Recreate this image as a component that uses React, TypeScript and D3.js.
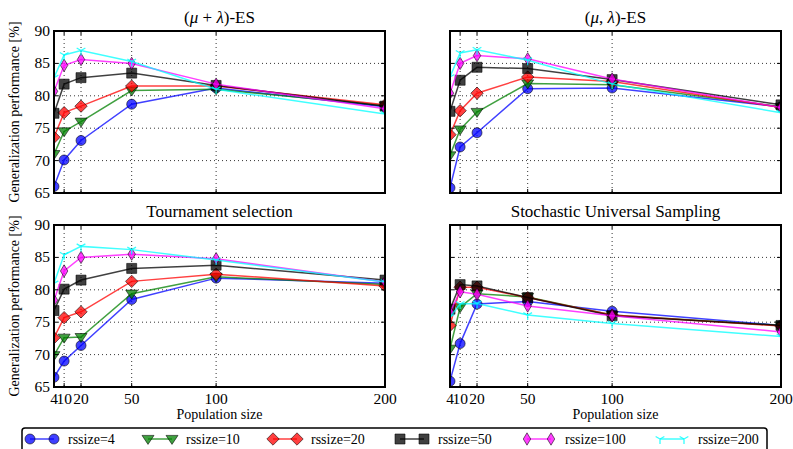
import { useEffect, useRef } from 'react';
import * as d3 from 'd3';

const popSizes = [4, 10, 20, 50, 100, 200];
const yTicks = [65, 70, 75, 80, 85, 90];
const rssizes = ['4', '10', '20', '50', '100', '200'];
const colors = ['#0000ff', '#008000', '#ff0000', '#000000', '#ff00ff', '#00ffff'];
const markers = ['o', 'v', 'D', 's', 'd', '1'];
// title pieces: [text, italic]
const titles: [string, boolean][][] = [
  [['(', false], ['μ', true], [' + ', false], ['λ', true], [')-ES', false]],
  [['(', false], ['μ', true], [', ', false], ['λ', true], [')-ES', false]],
  [['Tournament selection', false]],
  [['Stochastic Universal Sampling', false]],
];

// one row per rssize, one value per population size
const plusES = [
  [66.0, 70.1, 73.1, 78.7, 81.2, 78.3],
  [71.0, 74.5, 76.0, 80.8, 81.0, 78.5],
  [73.6, 77.4, 78.4, 81.5, 81.5, 78.6],
  [77.3, 81.8, 82.8, 83.5, 81.6, 78.4],
  [80.7, 84.7, 85.6, 85.0, 81.8, 78.0],
  [82.8, 86.3, 87.0, 85.3, 81.0, 77.2],
];
const commaES = [
  [65.8, 72.1, 74.3, 81.1, 81.2, 78.3],
  [70.8, 74.8, 77.5, 81.9, 81.7, 78.3],
  [74.0, 77.7, 80.4, 82.9, 82.2, 78.2],
  [77.6, 82.4, 84.4, 84.2, 82.5, 78.6],
  [80.4, 85.0, 86.2, 85.7, 82.6, 78.2],
  [82.9, 86.6, 87.1, 85.5, 81.8, 77.4],
];
const tournament = [
  [66.5, 69.0, 71.4, 78.5, 81.8, 81.0],
  [69.9, 72.6, 72.7, 79.4, 82.0, 80.8],
  [72.6, 75.7, 76.6, 81.3, 82.4, 80.6],
  [76.8, 80.1, 81.5, 83.3, 83.8, 81.5],
  [78.4, 82.9, 85.0, 85.5, 84.8, 81.2],
  [81.0, 85.4, 86.7, 86.2, 84.6, 81.2],
];
const sus = [
  [65.9, 71.7, 77.8, 78.2, 76.7, 74.5],
  [70.9, 77.3, 79.4, 78.9, 76.1, 74.5],
  [74.5, 80.4, 80.4, 78.8, 76.1, 74.4],
  [77.0, 80.8, 80.6, 78.8, 76.0, 74.5],
  [76.6, 79.7, 79.3, 77.5, 76.0, 73.5],
  [75.8, 77.8, 77.9, 76.1, 74.8, 72.8],
];
const panelData = [plusES, commaES, tournament, sus];

const FONT = "'Liberation Serif', 'DejaVu Serif', 'Liberation Sans', Arial, sans-serif";

function markerPath(m: string, s: number) {
  const p = d3.path();
  if (m === 'o') {
    p.arc(0, 0, s / 2, 0, Math.PI * 2);
  } else if (m === 'v') {
    const r = s * 0.6;
    p.moveTo(-r, -r * 0.6);
    p.lineTo(r, -r * 0.6);
    p.lineTo(0, r * 0.9);
    p.closePath();
  } else if (m === 'D') {
    const r = s * 0.62;
    p.moveTo(0, -r);
    p.lineTo(r, 0);
    p.lineTo(0, r);
    p.lineTo(-r, 0);
    p.closePath();
  } else if (m === 's') {
    const r = s / 2;
    p.rect(-r, -r, 2 * r, 2 * r);
  } else if (m === 'd') {
    const r = s * 0.62;
    p.moveTo(0, -r);
    p.lineTo(r * 0.6, 0);
    p.lineTo(0, r);
    p.lineTo(-r * 0.6, 0);
    p.closePath();
  } else {
    const r = s * 0.5;
    p.moveTo(0, 0);
    p.lineTo(0, r);
    p.moveTo(0, 0);
    p.lineTo(-r * 0.87, -r * 0.5);
    p.moveTo(0, 0);
    p.lineTo(r * 0.87, -r * 0.5);
  }
  return p.toString();
}

export default function App() {
  const svgRef = useRef<SVGSVGElement>(null);

  useEffect(() => {
    if (!svgRef.current) return;
    const svg = d3.select(svgRef.current);
    svg.selectAll('*').remove();

    const cols = [54, 450];
    const rows = [31, 225];
    const pw = 331;
    const ph = 162;

    panelData.forEach((data, pi) => {
      const left = cols[pi % 2];
      const top = rows[Math.floor(pi / 2)];
      const x = d3.scaleLinear().domain([4, 200]).range([left, left + pw]);
      const y = d3.scaleLinear().domain([65, 90]).range([top + ph, top]);
      const g = svg.append('g');

      g.append('clipPath')
        .attr('id', `clip${pi}`)
        .append('rect')
        .attr('x', left)
        .attr('y', top)
        .attr('width', pw)
        .attr('height', ph);

      // grid
      const grid = g.append('g').attr('stroke', '#000').attr('stroke-width', 0.8).attr('stroke-dasharray', '1,3');
      popSizes.forEach((v) => {
        grid.append('line').attr('x1', x(v)).attr('x2', x(v)).attr('y1', top).attr('y2', top + ph);
      });
      yTicks.forEach((v) => {
        grid.append('line').attr('x1', left).attr('x2', left + pw).attr('y1', y(v)).attr('y2', y(v));
      });

      // series
      const plot = g.append('g').attr('clip-path', `url(#clip${pi})`);
      const line = d3
        .line<number>()
        .x((_, i) => x(popSizes[i]))
        .y((d) => y(d));
      data.forEach((vals, si) => {
        plot
          .append('path')
          .attr('d', line(vals))
          .attr('fill', 'none')
          .attr('stroke', colors[si])
          .attr('stroke-opacity', 0.75)
          .attr('stroke-width', 1.5);
        vals.forEach((v, i) => {
          const isTri = markers[si] === '1';
          plot
            .append('path')
            .attr('transform', `translate(${x(popSizes[i])},${y(v)})`)
            .attr('d', markerPath(markers[si], 10))
            .attr('fill', isTri ? 'none' : colors[si])
            .attr('fill-opacity', 0.75)
            .attr('stroke', isTri ? colors[si] : '#000')
            .attr('stroke-opacity', isTri ? 0.8 : 0.7)
            .attr('stroke-width', isTri ? 1.3 : 0.8);
        });
      });

      // ticks (inward, all sides)
      const ticks = g.append('g').attr('stroke', '#000').attr('stroke-width', 1);
      popSizes.forEach((v) => {
        ticks.append('line').attr('x1', x(v)).attr('x2', x(v)).attr('y1', top + ph).attr('y2', top + ph - 4);
        ticks.append('line').attr('x1', x(v)).attr('x2', x(v)).attr('y1', top).attr('y2', top + 4);
      });
      yTicks.forEach((v) => {
        ticks.append('line').attr('x1', left).attr('x2', left + 4).attr('y1', y(v)).attr('y2', y(v));
        ticks.append('line').attr('x1', left + pw).attr('x2', left + pw - 4).attr('y1', y(v)).attr('y2', y(v));
      });

      // frame
      g.append('rect')
        .attr('x', left)
        .attr('y', top)
        .attr('width', pw)
        .attr('height', ph)
        .attr('fill', 'none')
        .attr('stroke', '#000')
        .attr('stroke-width', 2);

      // title
      const t = g
        .append('text')
        .attr('x', left + pw / 2)
        .attr('y', top - 8)
        .attr('text-anchor', 'middle')
        .attr('font-family', FONT)
        .attr('font-size', 17);
      titles[pi].forEach(([s, it]) => {
        t.append('tspan')
          .attr('font-style', it ? 'italic' : 'normal')
          .style('white-space', 'pre')
          .text(s);
      });

      if (pi % 2 === 0) {
        yTicks.forEach((v) => {
          g.append('text')
            .attr('x', left - 4)
            .attr('y', y(v) + 5)
            .attr('text-anchor', 'end')
            .attr('font-family', FONT)
            .attr('font-size', 15.5)
            .text(v);
        });
        g.append('text')
          .attr('transform', `translate(${left - 35},${top + ph / 2}) rotate(-90)`)
          .attr('text-anchor', 'middle')
          .attr('font-family', FONT)
          .attr('font-size', 14)
          .text('Generalization performance [%]');
      }

      if (pi >= 2) {
        popSizes.forEach((v) => {
          g.append('text')
            .attr('x', x(v))
            .attr('y', top + ph + 17)
            .attr('text-anchor', 'middle')
            .attr('font-family', FONT)
            .attr('font-size', 15.5)
            .text(v);
        });
        g.append('text')
          .attr('x', left + pw / 2)
          .attr('y', top + ph + 32)
          .attr('text-anchor', 'middle')
          .attr('font-family', FONT)
          .attr('font-size', 14)
          .text('Population size');
      }
    });

    // legend
    const lg = svg.append('g');
    lg.append('rect')
      .attr('x', 22)
      .attr('y', 428)
      .attr('width', 745)
      .attr('height', 26)
      .attr('rx', 3)
      .attr('fill', '#fff')
      .attr('stroke', '#000')
      .attr('stroke-width', 1.5);
    const itemX = [30, 148, 273, 400, 527, 660];
    rssizes.forEach((r, si) => {
      const x0 = itemX[si];
      const cy = 439;
      const isTri = markers[si] === '1';
      lg.append('line')
        .attr('x1', x0)
        .attr('x2', x0 + 24)
        .attr('y1', cy)
        .attr('y2', cy)
        .attr('stroke', colors[si])
        .attr('stroke-opacity', 0.75)
        .attr('stroke-width', 1.5);
      [x0, x0 + 24].forEach((mx) => {
        lg.append('path')
          .attr('transform', `translate(${mx},${cy})`)
          .attr('d', markerPath(markers[si], 10))
          .attr('fill', isTri ? 'none' : colors[si])
          .attr('fill-opacity', 0.75)
          .attr('stroke', isTri ? colors[si] : '#000')
          .attr('stroke-opacity', isTri ? 0.8 : 0.7)
          .attr('stroke-width', isTri ? 1.3 : 0.8);
      });
      lg.append('text')
        .attr('x', x0 + 38)
        .attr('y', cy + 5)
        .attr('font-family', FONT)
        .attr('font-size', 14)
        .text(`rssize=${r}`);
    });
  }, []);

  return (
    <div style={{ position: 'absolute', left: 0, top: 0 }}>
      <svg ref={svgRef} width={793} height={449} style={{ display: 'block', background: '#fff' }} />
    </div>
  );
}
